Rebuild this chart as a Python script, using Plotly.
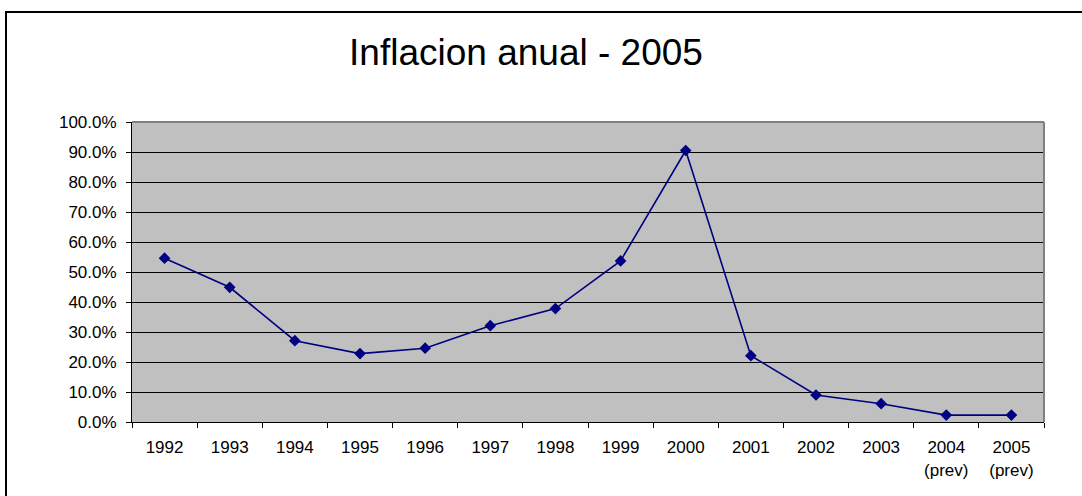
import plotly.graph_objects as go

categories = ["1992", "1993", "1994", "1995", "1996", "1997", "1998",
              "1999", "2000", "2001", "2002", "2003",
              "2004<br>(prev)", "2005<br>(prev)"]
inflation = [0.546, 0.449, 0.271, 0.228, 0.246, 0.321, 0.378,
             0.537, 0.905, 0.221, 0.090, 0.061, 0.023, 0.023]
title_text = "Inflacion anual - 2005"

W, H = 1082, 496
L, R, T, B = 132, 38, 122, 74
pw, ph = W - L - R, H - T - B

def px_x(p):
    return (p - L) / pw

def px_y(p):
    return (H - B - p) / ph

fig = go.Figure()
fig.add_trace(go.Scatter(
    x=categories, y=inflation, mode="lines+markers",
    line=dict(color="#000080", width=1.6),
    marker=dict(symbol="diamond", size=9, color="#000080"),
    showlegend=False, cliponaxis=False,
))

fig.update_layout(
    width=W, height=H,
    margin=dict(l=L, r=R, t=T, b=B, pad=0),
    paper_bgcolor="white",
    plot_bgcolor="#C0C0C0",
    font=dict(family="Liberation Sans, Arial, sans-serif", size=17, color="black"),
    title=dict(text=title_text, x=526 / W, xref="container", xanchor="center",
               y=1 - 52 / H, yref="container", yanchor="middle",
               font=dict(size=37, color="black")),
    xaxis=dict(type="category", range=[-0.5, 13.5], tickson="boundaries",
               ticks="outside", ticklen=5, tickcolor="black", tickwidth=1,
               showline=True, linecolor="black", linewidth=1,
               showgrid=False, zeroline=False, fixedrange=True,
               ticklabelstandoff=10),
    yaxis=dict(range=[0, 1], dtick=0.1, tickformat=".1%",
               ticks="outside", ticklen=5, tickcolor="black", tickwidth=1,
               showline=True, linecolor="black", linewidth=1,
               showgrid=True, gridcolor="black", gridwidth=1,
               zeroline=False, ticklabelstandoff=6, fixedrange=True),
    shapes=[
        dict(type="line", xref="paper", yref="paper", x0=0, x1=1, y0=1, y1=1,
             line=dict(color="#808080", width=2), layer="above"),
        dict(type="line", xref="paper", yref="paper", x0=1, x1=1, y0=0, y1=1,
             line=dict(color="#808080", width=2), layer="above"),
        dict(type="rect", xref="paper", yref="paper",
             x0=px_x(6), x1=px_x(1095), y0=px_y(12), y1=px_y(520),
             line=dict(color="black", width=2), fillcolor="rgba(0,0,0,0)",
             layer="above"),
    ],
)

fig.write_html("out.html",
               config={"displayModeBar": False},
               post_script="document.body.style.margin='0px';document.body.style.overflow='hidden';")
